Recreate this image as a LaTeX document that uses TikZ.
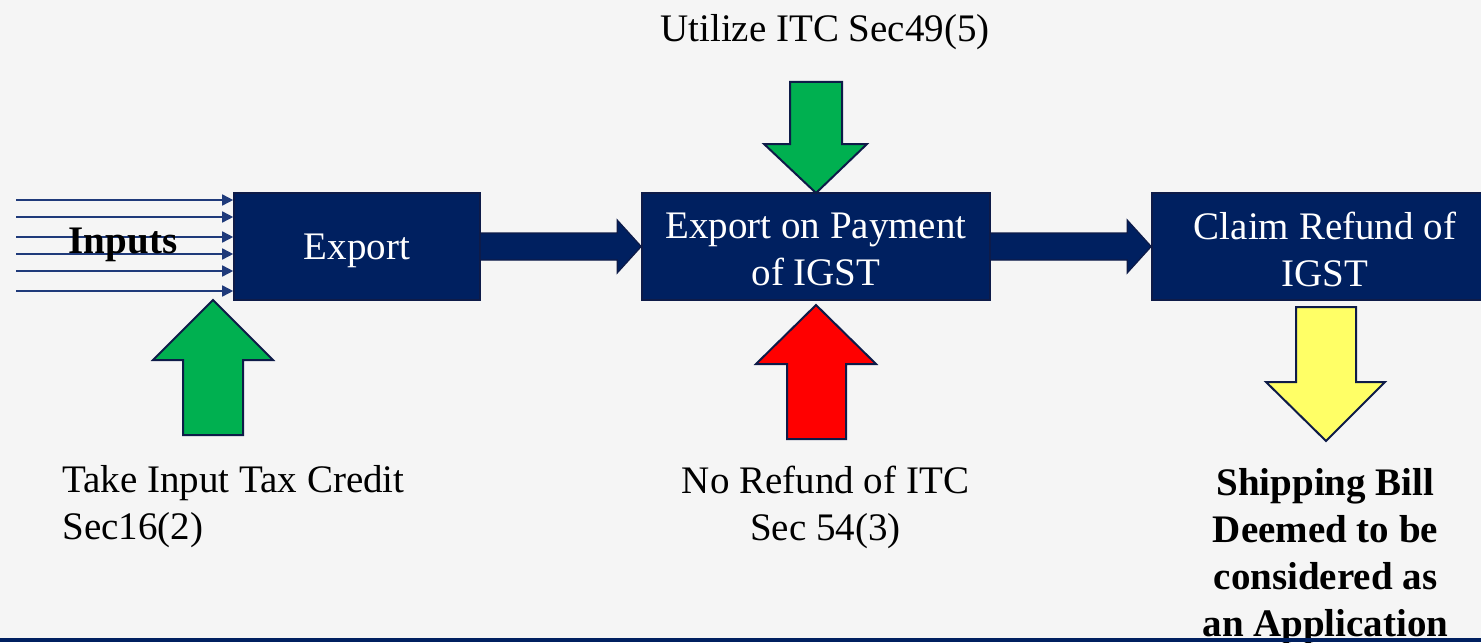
\documentclass[tikz,border=0pt]{standalone}
\usepackage{fontspec}
\setmainfont{Liberation Serif}
\usetikzlibrary{arrows.meta,calc}
\definecolor{navy}{HTML}{002060}
\definecolor{navyedge}{HTML}{0E1B48}
\definecolor{inline}{HTML}{1F3A7A}
\definecolor{bggray}{HTML}{F5F5F5}
\definecolor{pgreen}{HTML}{00B050}
\definecolor{pred}{HTML}{FF0000}
\definecolor{pyellow}{HTML}{FFFF66}
\begin{document}
\begin{tikzpicture}[x=0.5pt,y=-0.5pt,
  every node/.style={font=\fontsize{19.5pt}{23.5pt}\selectfont, inner sep=0pt},
  procbox/.style={fill=navy, draw=navyedge, line width=0.8pt, minimum height=53.5pt, inner sep=0pt},
  boxtext/.style={text=white, align=center},
  blockarrow/.style={draw=navyedge, line width=1pt, line join=miter},
  flowarrow/.style={fill=navy, draw=navyedge, line width=0.6pt, line join=miter},
  inarrow/.style={draw=inline, line width=0.8pt, -{Triangle[length=5.5pt,width=5.5pt]}},
  lbl/.style={text=black}
]
\useasboundingbox (0,0) rectangle (1481,642);
\clip (0,0) rectangle (1481,642);
\fill[bggray] (0,0) rectangle (1481,642);

% input lines
\foreach \yy [count=\i] in {200,217,237,254,271,291} {
  \coordinate (in\i) at (16,\yy);
}
% boxes
\node[procbox, minimum width=123pt] (export) at (357,246.5) {};
\node[procbox, minimum width=174pt] (payment) at (816,246.5) {};
\node[procbox, minimum width=173pt] (claim) at (1325,246.5) {};
\node[boxtext] (exportlbl) at ($(export.center)+(0,4)$) {Export};
\node[boxtext] (paymentlbl) at ($(payment.center)+(0,3)$) {Export on Payment\\of IGST};
\node[boxtext] (claimlbl) at ($(claim.center)+(0,3)$) {Claim Refund of\\IGST};

\foreach \i in {1,...,6} {
  \draw[inarrow] (in\i) -- (in\i -| export.west);
}
\node[lbl, font=\fontsize{19.5pt}{23.5pt}\selectfont\bfseries, anchor=base] (inputs) at (123,253) {Inputs};

% horizontal block arrows
\draw[flowarrow] ($(export.east)+(0,-13.5)$) -- ($(payment.west)+(-24,-13.5)$) -- ($(payment.west)+(-24,-26.5)$)
  -- (payment.west) -- ($(payment.west)+(-24,26.5)$) -- ($(payment.west)+(-24,13.5)$) -- ($(export.east)+(0,13.5)$);
\draw[flowarrow] ($(payment.east)+(0,-13.5)$) -- ($(claim.west)+(-24,-13.5)$) -- ($(claim.west)+(-24,-26.5)$)
  -- (claim.west) -- ($(claim.west)+(-24,26.5)$) -- ($(claim.west)+(-24,13.5)$) -- ($(payment.east)+(0,13.5)$);

% vertical block arrows
\draw[blockarrow, fill=pgreen] (816,193) -- (867,144) -- (842,144) -- (842,82) -- (790,82) -- (790,144) -- (764,144) -- cycle;
\draw[blockarrow, fill=pgreen] (213,300) -- (273,360) -- (243,360) -- (243,435) -- (183,435) -- (183,360) -- (153,360) -- cycle;
\draw[blockarrow, fill=pred] (816,305) -- (876,364) -- (846,364) -- (846,439) -- (787,439) -- (787,364) -- (756,364) -- cycle;
\draw[blockarrow, fill=pyellow] (1326,441) -- (1385,382) -- (1356,382) -- (1356,307) -- (1296,307) -- (1296,382) -- (1266,382) -- cycle;

% labels
\node[lbl, anchor=base] (utilize) at (825,42) {Utilize ITC Sec49(5)};
\node[lbl, anchor=west, align=left] (take) at (62,507) {Take Input Tax Credit\\Sec16(2)};
\node[lbl, align=center] (norefund) at (825.5,507) {No Refund of ITC\\Sec 54(3)};
\node[lbl, align=center, font=\fontsize{19.5pt}{23.5pt}\selectfont\bfseries] (shipping) at (1325.5,557) {Shipping Bill\\Deemed to be\\considered as\\an Application};

% bottom rule
\draw[navy, line width=2pt] (0,640) -- (1481,640);
\end{tikzpicture}
\end{document}
